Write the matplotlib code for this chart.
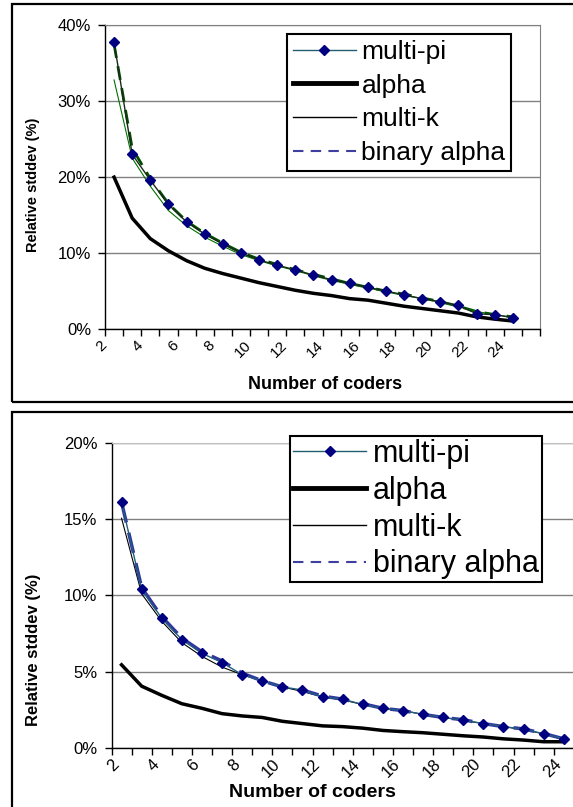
import matplotlib
matplotlib.use('Agg')
import matplotlib.pyplot as plt
import matplotlib.transforms as mtransforms
from matplotlib.lines import Line2D
from matplotlib.patches import Rectangle
from matplotlib.ticker import FuncFormatter

plt.rcParams['font.family'] = ['Liberation Sans', 'DejaVu Sans']

# categories on the x axis (Excel category axis, one empty slot at the end)
coders = list(range(2, 25))
slot_edges = [c - 0.5 for c in range(2, 27)]
tick_labels = [str(c) for c in range(2, 25, 2)]
series_names = ['multi-pi', 'alpha', 'multi-k', 'binary alpha']

# top chart values (%)
top_multi_pi = [37.8, 23.0, 19.6, 16.4, 14.1, 12.5, 11.2, 10.0, 9.1, 8.4, 7.8, 7.1,
                6.5, 6.0, 5.5, 5.0, 4.5, 4.0, 3.6, 3.1, 2.0, 1.9, 1.5]
top_alpha = [20.0, 14.6, 11.9, 10.3, 9.0, 8.0, 7.3, 6.7, 6.1, 5.6, 5.1, 4.7,
             4.4, 4.0, 3.8, 3.4, 3.0, 2.7, 2.4, 2.1, 1.6, 1.3, 1.05]
top_multi_k = [32.8, 22.5, 18.8, 15.6, 13.6, 12.1, 10.9, 9.8, 9.0, 8.3, 7.7, 7.0,
               6.4, 5.9, 5.4, 4.9, 4.4, 4.0, 3.5, 3.0, 2.3, 1.9, 1.5]
top_binary = [37.5, 23.8, 19.8, 16.5, 14.2, 12.6, 11.3, 10.1, 9.2, 8.5, 7.8, 7.2,
              6.6, 6.0, 5.5, 5.0, 4.6, 4.1, 3.6, 3.0, 2.3, 1.9, 1.6]

# bottom chart values (%)
bot_multi_pi = [16.1, 10.4, 8.5, 7.1, 6.2, 5.6, 4.8, 4.4, 4.0, 3.8, 3.35, 3.2,
                2.85, 2.6, 2.45, 2.2, 2.0, 1.83, 1.6, 1.4, 1.24, 0.93, 0.6]
bot_alpha = [5.45, 4.05, 3.45, 2.9, 2.6, 2.25, 2.1, 2.0, 1.75, 1.6, 1.45, 1.4,
             1.3, 1.15, 1.07, 1.0, 0.9, 0.8, 0.72, 0.6, 0.52, 0.41, 0.41]
bot_multi_k = [15.05, 10.1, 8.3, 6.9, 6.0, 5.3, 4.8, 4.4, 4.0, 3.7, 3.35, 3.15,
               2.85, 2.6, 2.45, 2.2, 2.0, 1.8, 1.6, 1.4, 1.2, 0.93, 0.6]
bot_binary = [16.1, 10.5, 8.6, 7.2, 6.3, 5.7, 4.9, 4.4, 4.0, 3.8, 3.4, 3.2,
              2.9, 2.6, 2.45, 2.2, 2.0, 1.85, 1.6, 1.4, 1.25, 0.95, 0.6]

fig = plt.figure(figsize=(5.73, 8.07), dpi=100)

# panel frames (they run off the right / bottom edge of the screenshot)
fig.add_artist(Rectangle((12 / 573, 1 - 401.7 / 807), 1.0, (401.7 - 4) / 807,
                         transform=fig.transFigure, fill=False, ec='black', lw=1.6))
fig.add_artist(Rectangle((12 / 573, -0.1), 1.0, 0.1 + 1 - 411.7 / 807,
                         transform=fig.transFigure, fill=False, ec='black', lw=1.6))

ax1 = fig.add_axes([105 / 573, 1 - 329 / 807, 435 / 573, 303.7 / 807])
ax2 = fig.add_axes([111.5 / 573, 1 - 748 / 807, 482.4 / 573, 305.3 / 807])


def style_axes(ax, ymax, ystep, tick_fs, xtick_fs, xoff, lab_fs, xlab_fs, top_col,
               ylab_xy, xlab_xy):
    ax.set_xlim(slot_edges[0], slot_edges[-1])
    ax.set_ylim(0, ymax)
    ax.set_yticks(range(0, ymax + 1, ystep))
    ax.yaxis.set_major_formatter(FuncFormatter(lambda v, p: '%d%%' % v))
    ax.grid(axis='y', color='#808080', lw=1)
    ax.set_axisbelow(True)
    for s in ['left', 'bottom']:
        ax.spines[s].set_color('black')
        ax.spines[s].set_linewidth(1)
    ax.spines['top'].set_color(top_col)
    ax.spines['right'].set_color('#808080')
    ax.tick_params(axis='y', direction='out', length=5, width=1, labelsize=tick_fs,
                   colors='black', pad=5)
    ax.set_xticks(slot_edges)
    ax.set_xticklabels([])
    ax.tick_params(axis='x', which='major', direction='out', length=5, width=1)
    ax.set_xticks(list(range(2, 25, 2)), minor=True)
    ax.set_xticklabels(tick_labels, minor=True, rotation=45, ha='right', va='center',
                       rotation_mode='anchor', fontsize=xtick_fs)
    ax.tick_params(axis='x', which='minor', length=0, pad=10)
    off = mtransforms.ScaledTranslation(xoff / 100, 0, fig.dpi_scale_trans)
    for lbl in ax.get_xticklabels(minor=True):
        lbl.set_transform(lbl.get_transform() + off)
    ax.set_ylabel('Relative stddev (%)', fontweight='bold', fontsize=lab_fs)
    ax.yaxis.set_label_coords(*ylab_xy)
    ax.set_xlabel('Number of coders', fontweight='bold', fontsize=xlab_fs)
    ax.xaxis.set_label_coords(*xlab_xy)


def legend_handles():
    return [
        Line2D([], [], color='#1f5f6f', lw=1, marker='D', markersize=5,
               markerfacecolor='#000080', markeredgecolor='#000080'),
        Line2D([], [], color='black', lw=3.5),
        Line2D([], [], color='black', lw=1),
        Line2D([], [], color='#3f3f9f', lw=1.5, dashes=(5, 3.5)),
    ]


def add_legend(ax, x0, y0, fs, ls, bp):
    leg = ax.legend(legend_handles(), series_names, loc='upper left',
                    bbox_to_anchor=(x0 / 573, 1 - y0 / 807), bbox_transform=fig.transFigure,
                    fontsize=fs, frameon=True, fancybox=False, framealpha=1,
                    edgecolor='black', handlelength=2.4, handletextpad=0.2,
                    labelspacing=ls, borderpad=bp, borderaxespad=0)
    leg.get_frame().set_linewidth(1.5)
    return leg


# top chart
ax1.plot(coders, top_binary, color='#004d00', lw=2, dashes=(5, 3), zorder=3)
ax1.plot(coders, top_multi_k, color='#007000', lw=0.8, zorder=3)
ax1.plot(coders, top_alpha, color='black', lw=2.5, zorder=3)
ax1.plot(coders, top_multi_pi, color='#1a2a1a', lw=1, marker='D', markersize=5,
         markerfacecolor='#000080', markeredgecolor='#000080', zorder=4)
style_axes(ax1, 40, 10, 12, 11, -10, 10.5, 13, '#808080', (-0.149, 0.474), (0.506, -0.155))
add_legend(ax1, 287, 34, 19, 0.37, 0.22)

# bottom chart
ax2.plot(coders, bot_multi_k, color='black', lw=0.8, zorder=3)
ax2.plot(coders, bot_binary, color='#3333a0', lw=2.5, dashes=(6, 3), zorder=3)
ax2.plot(coders, bot_alpha, color='black', lw=2.5, zorder=3)
ax2.plot(coders, bot_multi_pi, color='#1f5f7f', lw=1, marker='D', markersize=5,
         markerfacecolor='#000080', markeredgecolor='#000080', zorder=4)
style_axes(ax2, 20, 5, 12, 12, -5, 12, 14, '#c0c0c0', (-0.146, 0.32), (0.4156, -0.118))
add_legend(ax2, 290, 436, 22, 0.22, 0.1)

fig.savefig('out.png', dpi=100)
